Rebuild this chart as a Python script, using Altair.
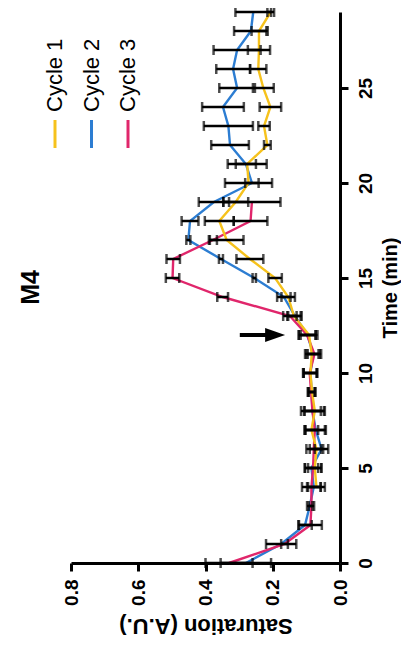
import altair as alt
import pandas as pd

# ---- data ----
series_names = ["Cycle 1", "Cycle 2", "Cycle 3"]
series_colors = ["#F6C21C", "#2C7DD2", "#E0266B"]

c1_time = list(range(4, 30))
c1_mean = [0.070, 0.075, 0.070, 0.085, 0.075, 0.083, 0.088, 0.084, 0.092, 0.137,
           0.154, 0.193, 0.268, 0.337, 0.359, 0.310, 0.272, 0.276, 0.216, 0.226,
           0.207, 0.228, 0.243, 0.241, 0.241, 0.206]
c1_err = [0.025, 0.020, 0.020, 0.020, 0.030, 0.010, 0.020, 0.020, 0.025, 0.020,
          0.020, 0.020, 0.040, 0.050, 0.043, 0.037, 0.070, 0.058, 0.010, 0.017,
          0.032, 0.031, 0.024, 0.033, 0.022, 0.010]

c2_time = list(range(0, 30))
c2_mean = [0.280, 0.175, 0.104, 0.090, 0.078, 0.085, 0.055, 0.072, 0.082, 0.084,
           0.088, 0.080, 0.097, 0.134, 0.167, 0.255, 0.354, 0.451, 0.446, 0.375,
           0.262, 0.280, 0.327, 0.332, 0.348, 0.306, 0.318, 0.306, 0.265, 0.258]
c2_err = [0.075, 0.045, 0.020, 0.008, 0.020, 0.020, 0.020, 0.030, 0.025, 0.010,
          0.020, 0.020, 0.025, 0.020, 0.020, 0.005, 0.006, 0.006, 0.025, 0.045,
          0.020, 0.030, 0.056, 0.073, 0.062, 0.053, 0.050, 0.070, 0.050, 0.053]

c3_time = list(range(0, 20))
c3_mean = [0.330, 0.165, 0.088, 0.085, 0.085, 0.080, 0.078, 0.075, 0.082, 0.086,
           0.090, 0.076, 0.098, 0.149, 0.349, 0.498, 0.496, 0.378, 0.266, 0.262]
c3_err = [0.070, 0.010, 0.034, 0.008, 0.028, 0.024, 0.022, 0.030, 0.034, 0.010,
          0.020, 0.020, 0.025, 0.020, 0.016, 0.020, 0.020, 0.012, 0.050, 0.085]

sat_ticks = [0.0, 0.2, 0.4, 0.6, 0.8]
time_ticks = [0, 5, 10, 15, 20, 25]

arrow_time = [12]
arrow_start = [0.298]
arrow_end = [0.200]
arrow_head = [0.193]

# ---- tables ----
rows = []
for name, ts, ms, es in [("Cycle 2", c2_time, c2_mean, c2_err),
                         ("Cycle 3", c3_time, c3_mean, c3_err),
                         ("Cycle 1", c1_time, c1_mean, c1_err)]:
    for t, m, e in zip(ts, ms, es):
        rows.append({"series": name, "t": t, "mean": m, "lo": m - e, "hi": m + e})
df = pd.DataFrame(rows)
arrow_df = pd.DataFrame({"t": arrow_time, "a0": arrow_start, "a1": arrow_end, "ah": arrow_head})
legend_df = pd.DataFrame({"series": series_names})

FONT = "Liberation Sans"

x_scale = alt.Scale(domain=[0, 0.8], reverse=True, nice=False, zero=False)
y_scale = alt.Scale(domain=[0, 29], nice=False, zero=False)
color_scale = alt.Scale(domain=series_names, range=series_colors)

x_axis = alt.Axis(orient="bottom", values=sat_ticks, format=".1f", grid=False,
                  labelAngle=270, labelAlign="right", labelBaseline="middle",
                  labelFont=FONT, labelFontWeight="bold", labelFontSize=19,
                  labelColor="black", labelPadding=8, labelFlush=False, labelOverlap=False,
                  tickSize=8, tickWidth=3, tickColor="black",
                  domainWidth=3, domainColor="black",
                  title="Saturation (A.U.)", titleAngle=180, titleBaseline="bottom",
                  titleFont=FONT, titleFontWeight="bold", titleFontSize=22,
                  titleColor="black", titlePadding=8)
y_axis = alt.Axis(orient="right", values=time_ticks, grid=False,
                  labelAngle=270, labelAlign="center", labelBaseline="top",
                  labelFont=FONT, labelFontWeight="bold", labelFontSize=19,
                  labelColor="black", labelPadding=8, labelFlush=False, labelOverlap=False,
                  tickSize=8, tickWidth=3, tickColor="black",
                  domainWidth=3, domainColor="black",
                  title="Time (min)", titleAngle=270, titleBaseline="top",
                  titleFont=FONT, titleFontWeight="bold", titleFontSize=20,
                  titleColor="black", titlePadding=5)

base = alt.Chart(df)
lines = base.mark_line(strokeWidth=2.4).encode(
    x=alt.X("mean:Q", scale=x_scale, axis=x_axis),
    y=alt.Y("t:Q", scale=y_scale, axis=y_axis),
    color=alt.Color("series:N", scale=color_scale, legend=None),
    order=alt.Order("t:Q"),
)
bars = base.mark_rule(color="black", strokeWidth=2.5).encode(
    x="lo:Q", x2="hi:Q", y="t:Q")
cap_lo = base.mark_tick(color="black", orient="vertical", size=10, thickness=2.5).encode(
    x="lo:Q", y="t:Q")
cap_hi = base.mark_tick(color="black", orient="vertical", size=10, thickness=2.5).encode(
    x="hi:Q", y="t:Q")

arrow_base = alt.Chart(arrow_df)
shaft = arrow_base.mark_rule(color="black", strokeWidth=4).encode(
    x="a0:Q", x2="a1:Q", y="t:Q")
head = arrow_base.mark_point(shape="M-1,-0.7L1,0L-1,0.7Z", size=400, filled=True,
                             color="black", opacity=1).encode(
    x="ah:Q", y="t:Q")

main = alt.layer(lines, bars, cap_lo, cap_hi, shaft, head)

leg_x = alt.X("series:N", scale=alt.Scale(type="point", domain=series_names,
                                          range=[-16, 57], padding=0), axis=None)
leg_lines = alt.Chart(legend_df).mark_rule(strokeWidth=3).encode(
    x=leg_x, y=alt.value(108), y2=alt.value(136),
    color=alt.Color("series:N", scale=color_scale, legend=None))
leg_text = alt.Chart(legend_df).mark_text(angle=270, align="left", baseline="middle",
                                          font=FONT, fontSize=22, color="black").encode(
    x=leg_x, y=alt.value(100), text="series:N")

chart = alt.layer(main, leg_lines, leg_text).resolve_scale(x="independent").properties(
    width=269, height=551,
    autosize=alt.AutoSizeParams(type="none"),
    padding={"left": 63, "top": 4, "right": 61, "bottom": 75},
    title=alt.TitleParams(text="M4", orient="left", anchor="middle", font=FONT,
                          fontWeight="bold", fontSize=25, color="black", offset=0),
    background="white",
).configure_view(stroke=None)

chart.save("out.html", embed_options={"renderer": "svg", "actions": False})
